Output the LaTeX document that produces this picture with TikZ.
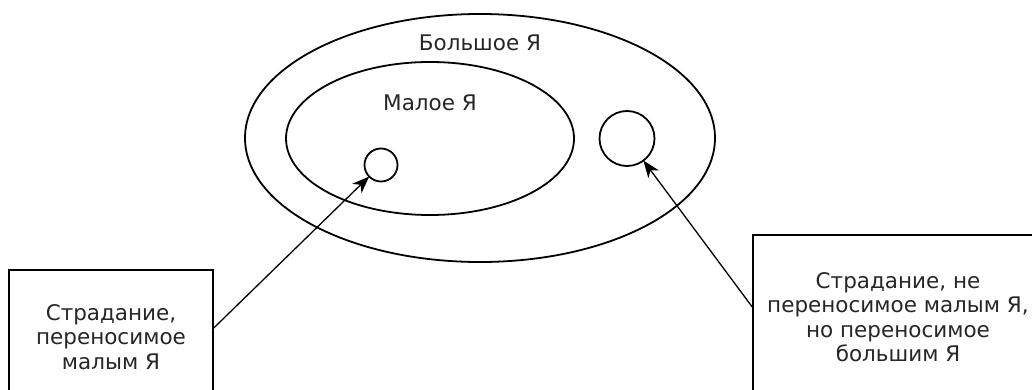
\documentclass[tikz,border=0pt]{standalone}
\usepackage{fontspec}
\setmainfont{DejaVu Sans}
\usetikzlibrary{shapes.geometric,arrows.meta}
\tikzset{
  ring/.style={draw, line width=1.8pt, ellipse, inner sep=0pt, outer sep=0pt},
  dot/.style={draw, line width=1.8pt, circle, inner sep=0pt, outer sep=0pt},
  lbl/.style={font=\fontsize{21.5}{25}\selectfont, text=black!85},
  note/.style={draw, line width=1.5pt, align=center, inner sep=0pt, font=\fontsize{21.5}{24.5}\selectfont, text=black!85},
  arr/.style={line width=1.3pt, -{Stealth[length=17pt, width=13pt, inset=5pt]}}
}
\begin{document}
\begin{tikzpicture}[x=1pt,y=-1pt]
\useasboundingbox (0,0) rectangle (1032,390);
\node[ring, minimum width=470pt, minimum height=248pt] (big) at (480,138) {};
\node[ring, minimum width=288pt, minimum height=153pt] (small) at (430,138.5) {};
\node[dot, minimum size=33pt] (sc) at (381,165) {};
\node[dot, minimum size=55pt] (bc) at (627,138.5) {};
\node[lbl] (bigl) at (480,43) {Большое Я};
\node[lbl] (smalll) at (430,103) {Малое Я};
\node[note, minimum width=204pt, minimum height=134pt] (lb) at (111,337)
  {Страдание,\\переносимое\\малым Я};
\node[note, minimum width=290pt, minimum height=164pt] (rb) at (898,317)
  {Страдание, не\\переносимое малым Я,\\но переносимое\\большим Я};
\draw[arr] ([yshift=9pt]lb.east) -- (sc);
\draw[arr] ([yshift=10pt]rb.west) -- (bc);
\end{tikzpicture}
\end{document}
